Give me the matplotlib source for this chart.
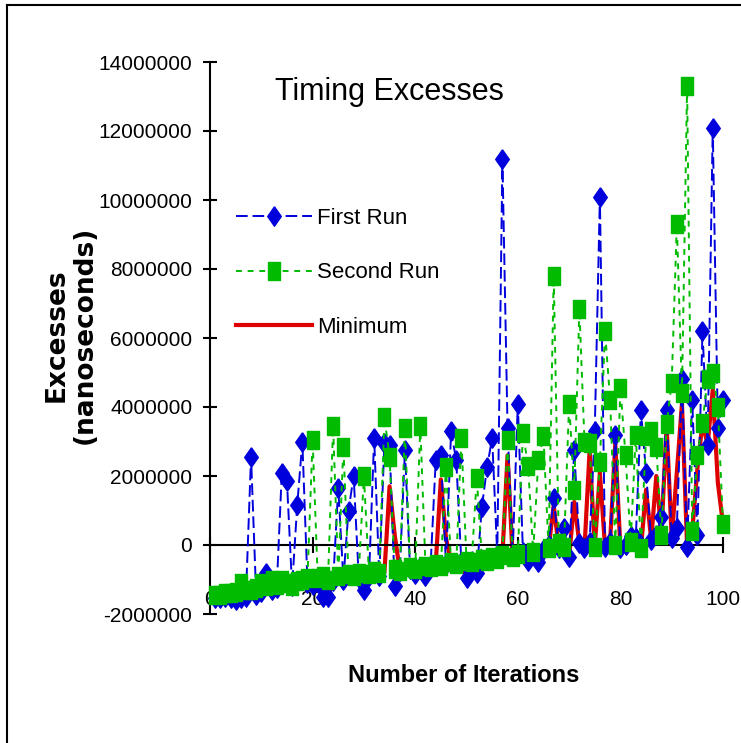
import matplotlib.pyplot as plt
from matplotlib.lines import Line2D
import numpy as np

# iteration number 1..100, values in millions of nanoseconds
iterations = np.arange(1, 101)

first_run = [
    -1.55, -1.55, -1.50, -1.55, -1.60, -1.55, -1.50, 2.55, -1.45, -1.35,
    -0.80, -1.30, -1.25, 2.10, 1.85, -1.20, 1.15, 3.00, -1.10, -1.15,
    -1.10, -1.50, -1.50, -1.05, 1.65, -1.00, 1.00, 2.00, -0.95, -1.30,
    -0.90, 3.10, -0.90, 2.95, 2.90, -1.20, -0.75, 2.75, -0.70, -0.85,
    -0.65, -0.90, -0.60, 2.45, 2.60, -0.55, 3.30, 2.45, -0.50, -0.95,
    -0.45, -0.80, 1.10, 2.25, 3.10, -0.30, 11.20, 3.40, -0.25, 4.10,
    -0.20, -0.45, -0.20, -0.50, -0.15, 0.00, 1.35, -0.10, 0.50, -0.35,
    2.75, 0.05, -0.10, 0.10, 3.30, 10.10, -0.05, 0.10, 3.20, -0.10,
    0.00, 0.25, 0.20, 3.90, 2.10, 0.15, 0.30, 0.80, 3.90, 0.20,
    0.50, 4.80, -0.05, 4.20, 0.30, 6.20, 2.90, 12.10, 3.40, 4.20,
]

second_run = [
    -1.45, -1.45, -1.40, -1.40, -1.35, -1.10, -1.30, -1.30, -1.25, -1.10,
    -1.20, -1.00, -1.15, -1.00, -1.10, -1.20, -1.05, -1.00, -0.95, 3.05,
    -0.95, -0.90, -1.00, 3.45, -0.90, 2.85, -0.85, -0.90, -0.80, 2.00,
    -0.85, -0.75, -0.80, 3.70, 2.55, -0.70, -0.75, 3.40, -0.65, -0.70,
    3.45, -0.60, -0.65, -0.55, -0.60, 2.25, -0.50, -0.55, 3.10, -0.45,
    -0.50, 1.95, -0.40, -0.45, -0.35, -0.40, -0.30, 3.05, -0.35, -0.25,
    3.25, 2.30, -0.20, 2.45, 3.15, -0.10, 7.80, 0.05, -0.05, 4.10,
    1.60, 6.85, 3.00, 2.95, -0.05, 2.40, 6.20, 4.20, 0.00, 4.55,
    2.60, 0.10, 3.20, -0.10, 3.15, 3.30, 2.85, 0.30, 3.50, 4.70,
    9.30, 4.40, 13.30, 0.40, 2.60, 3.55, 4.80, 5.00, 4.00, 0.60,
]

minimum = [
    -1.55, -1.55, -1.50, -1.55, -1.60, -1.55, -1.50, -1.35, -1.45, -1.35,
    -1.20, -1.30, -1.25, -1.00, -1.10, -1.20, -1.05, -1.00, -1.10, -1.15,
    -1.10, -1.50, -1.50, -1.05, -0.90, -1.00, -0.85, -0.90, -0.95, -1.30,
    -0.90, -0.75, -0.90, -0.80, 1.70, 0.30, -0.75, -0.70, -0.70, -0.85,
    -0.65, -0.90, -0.65, -0.55, 1.90, 0.20, -0.50, -0.55, -0.50, -0.95,
    -0.50, -0.80, -0.40, -0.45, -0.35, -0.40, -0.30, 2.60, -0.35, -0.25,
    -0.20, -0.45, -0.20, -0.50, -0.15, -0.10, 1.15, -0.10, -0.05, -0.35,
    1.25, 0.05, -0.10, 2.75, -0.05, 2.10, -0.05, 0.10, 2.95, -0.10,
    0.00, 0.10, 0.20, -0.10, 1.60, 0.15, 2.00, 0.30, 3.50, 0.20,
    2.10, 4.10, -0.05, 0.40, 2.20, 3.55, 2.90, 4.50, 1.80, 0.60,
]

series_names = ['First Run', 'Second Run', 'Minimum']
y_ticks = [-2e6, 0, 2e6, 4e6, 6e6, 8e6, 10e6, 12e6, 14e6]
x_ticks = [0, 20, 40, 60, 80, 100]

blue = '#0000dd'
green = '#00bb00'
red = '#dd0000'

plt.rcParams['font.family'] = ['Liberation Sans', 'DejaVu Sans']

# tall markers, the original picture is stretched vertically
diamond = [(0, 1), (0.7, 0), (0, -1), (-0.7, 0), (0, 1)]
square = [(-0.6, -1), (0.6, -1), (0.6, 1), (-0.6, 1), (-0.6, -1)]

fig = plt.figure(figsize=(7.41, 7.43), dpi=100)
ax = fig.add_axes([210 / 741, 1 - 614 / 743, 513 / 741, 552 / 743])

scale = 1e6
l_min, = ax.plot(iterations, np.array(minimum) * scale, color=red, lw=3,
                 zorder=2, clip_on=False)
l_first, = ax.plot(iterations, np.array(first_run) * scale, color=blue, lw=1.4,
                   dashes=(6, 2.5), marker=diamond, ms=14, mfc=blue, mec=blue,
                   zorder=3, clip_on=False)
l_second, = ax.plot(iterations, np.array(second_run) * scale, color=green, lw=1.4,
                    dashes=(3, 3), marker=square, ms=13.5, mfc=green, mec=green,
                    zorder=4, clip_on=False)

ax.set_xlim(0, 100)
ax.set_ylim(-2e6, 14e6)
ax.set_xticks(x_ticks)
ax.set_yticks(y_ticks)
ax.set_yticklabels(['{:.0f}'.format(v) for v in y_ticks])
ax.set_xticklabels([str(v) for v in x_ticks])

for side in ['top', 'right']:
    ax.spines[side].set_visible(False)
ax.spines['bottom'].set_position(('data', 0))
ax.spines['bottom'].set_linewidth(1.5)
ax.spines['left'].set_linewidth(1.5)
ax.patch.set_visible(False)

ax.tick_params(axis='y', direction='inout', length=9.5, width=1.5, labelsize=15, pad=8)
ax.tick_params(axis='x', direction='inout', length=11, width=1.5, labelsize=15, pad=27)

leg = fig.legend([l_first, l_second, l_min], series_names,
                 loc='upper left', bbox_to_anchor=(236 / 741, 1 - 208 / 743),
                 frameon=False, fontsize=16, handlelength=3.4, handletextpad=0.25,
                 labelspacing=1.5, borderpad=0, borderaxespad=0)

fig.text(275 / 741, 1 - 92 / 743, 'Timing Excesses', fontsize=22,
         ha='left', va='center')
fig.text(464 / 741, 1 - 675 / 743, 'Number of Iterations', fontsize=17,
         fontweight='bold', ha='center', va='center')
fig.text(57 / 741, 1 - 335 / 743, 'Excesses', rotation=90, fontsize=19,
         fontweight='bold', family='DejaVu Sans', ha='center', va='center')
fig.text(85 / 741, 1 - 335 / 743, '(nanoseconds)', rotation=90, fontsize=19,
         fontweight='bold', family='DejaVu Sans', ha='center', va='center')

# outer frame of the original picture
fig.add_artist(Line2D([7 / 741, 1], [1 - 5 / 743, 1 - 5 / 743], color='black', lw=1.5))
fig.add_artist(Line2D([7 / 741, 7 / 741], [0, 1 - 5 / 743], color='black', lw=1.5))

fig.savefig('out.png', dpi=100)
